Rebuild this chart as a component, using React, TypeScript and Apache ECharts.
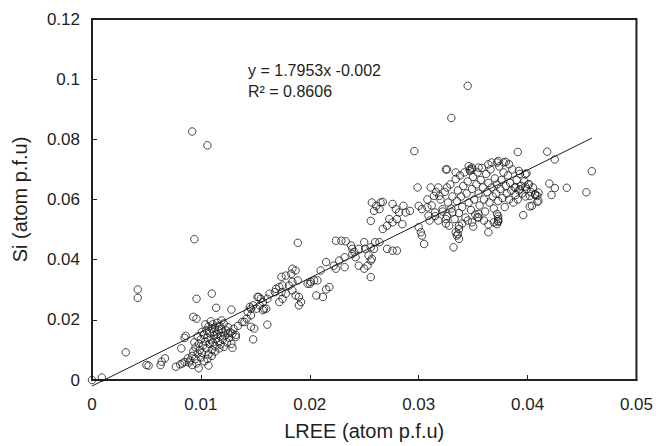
import React, { useEffect, useRef } from "react";
import * as echarts from "echarts";

// LREE (atom p.f.u) vs Si (atom p.f.u) — [x, y] pairs
const isolatedPoints: number[][] = [
  [0.0, 0.0], [0.0009, 0.0008], [0.0031, 0.0092], [0.0042, 0.0301], [0.0042, 0.0273],
  [0.005, 0.005], [0.0052, 0.0048], [0.0063, 0.005], [0.0064, 0.0061], [0.0067, 0.0072],
  [0.0077, 0.0044], [0.0081, 0.0052], [0.0083, 0.0055], [0.0086, 0.0147], [0.0096, 0.027],
  [0.0093, 0.021], [0.0096, 0.0204], [0.0098, 0.0039], [0.0107, 0.0048], [0.011, 0.0287],
  [0.0114, 0.024], [0.0128, 0.0234], [0.0092, 0.0826], [0.0106, 0.078], [0.0094, 0.0468],
  [0.0189, 0.0456], [0.0345, 0.0978], [0.033, 0.0871], [0.0296, 0.0761], [0.0082, 0.0105],
  [0.0085, 0.014],
];

const lowCluster: number[][] = [
  [0.0085, 0.006], [0.0088, 0.0072], [0.009, 0.0065], [0.0092, 0.008], [0.0093, 0.0095],
  [0.0095, 0.007], [0.0095, 0.0108], [0.0097, 0.0088], [0.0098, 0.012], [0.0099, 0.01],
  [0.01, 0.0075], [0.01, 0.0135], [0.0101, 0.009], [0.0102, 0.0115], [0.0103, 0.015],
  [0.0104, 0.0128], [0.0105, 0.0105], [0.0105, 0.0165], [0.0106, 0.014], [0.0107, 0.0085],
  [0.0107, 0.0178], [0.0108, 0.012], [0.0108, 0.0155], [0.0109, 0.0135], [0.011, 0.017],
  [0.011, 0.01], [0.0111, 0.0185], [0.0111, 0.0125], [0.0112, 0.0148], [0.0112, 0.016],
  [0.0113, 0.0175], [0.0113, 0.0112], [0.0114, 0.0138], [0.0115, 0.019], [0.0115, 0.0152],
  [0.0116, 0.0165], [0.0116, 0.0128], [0.0117, 0.018], [0.0118, 0.0145], [0.0118, 0.0118],
  [0.0119, 0.017], [0.012, 0.0158], [0.012, 0.0135], [0.0121, 0.0188], [0.0122, 0.0148],
  [0.0123, 0.0165], [0.0124, 0.0125], [0.0125, 0.0175], [0.0126, 0.014], [0.0127, 0.0158],
  [0.0128, 0.012], [0.013, 0.017], [0.0132, 0.015], [0.0134, 0.018], [0.0096, 0.0055],
  [0.0092, 0.005], [0.0089, 0.0058], [0.0103, 0.0062], [0.0106, 0.007], [0.011, 0.008],
  [0.0129, 0.0107], [0.0129, 0.0154], [0.0132, 0.0143], [0.0148, 0.0135], [0.0149, 0.0171],
  [0.0146, 0.0177], [0.0138, 0.0193], [0.0142, 0.0204], [0.014, 0.0193], [0.0161, 0.0184],
  [0.0094, 0.0125], [0.0097, 0.0145], [0.0101, 0.016], [0.0104, 0.0185], [0.0109, 0.0195],
  [0.0113, 0.0095], [0.0117, 0.0105], [0.0121, 0.011], [0.0125, 0.0155], [0.0119, 0.0198],
];

const midPoints: number[][] = [
  [0.0143, 0.0226], [0.0146, 0.0237], [0.0152, 0.0276], [0.0154, 0.0248], [0.0145, 0.0243],
  [0.0148, 0.0248], [0.0151, 0.0237], [0.0157, 0.0232], [0.0153, 0.0276], [0.0155, 0.027],
  [0.0157, 0.0259], [0.0158, 0.0237], [0.0146, 0.0215], [0.0184, 0.037], [0.0187, 0.0364],
  [0.0183, 0.0353], [0.0178, 0.0347], [0.0189, 0.0331], [0.0184, 0.0326], [0.0181, 0.0314],
  [0.0175, 0.0314], [0.0172, 0.0309], [0.0169, 0.0303], [0.0168, 0.0292], [0.0174, 0.0292],
  [0.0178, 0.0287], [0.0184, 0.0298], [0.0187, 0.0281], [0.019, 0.0276], [0.0192, 0.0259],
  [0.019, 0.0248], [0.0175, 0.027], [0.0172, 0.0259], [0.0163, 0.0287], [0.0161, 0.027],
  [0.016, 0.0237], [0.0174, 0.0343], [0.0198, 0.032], [0.0201, 0.0326], [0.0204, 0.0331],
  [0.0207, 0.0331], [0.02, 0.032], [0.0218, 0.0309], [0.0215, 0.0301], [0.0206, 0.0281],
  [0.0212, 0.0276], [0.0215, 0.0392], [0.021, 0.0364], [0.0232, 0.0408], [0.0227, 0.0397],
  [0.0222, 0.038], [0.0224, 0.037], [0.0232, 0.0375], [0.0239, 0.0419], [0.0242, 0.0408],
  [0.0245, 0.038], [0.025, 0.037], [0.0256, 0.0342], [0.0245, 0.0436], [0.0251, 0.0436],
  [0.0256, 0.0441], [0.0259, 0.0436], [0.0254, 0.0414], [0.0257, 0.0403], [0.0256, 0.0397],
  [0.0253, 0.038], [0.0224, 0.0463], [0.0229, 0.0463], [0.0233, 0.0461], [0.0238, 0.0447],
  [0.0239, 0.0436], [0.0241, 0.0425], [0.025, 0.0458], [0.026, 0.0458],
];

const upperMidPoints: number[][] = [
  [0.0257, 0.059], [0.0261, 0.0579], [0.0265, 0.059], [0.0267, 0.0592], [0.0259, 0.0562],
  [0.0264, 0.0568], [0.0256, 0.0529], [0.0276, 0.0585], [0.0279, 0.0568], [0.0282, 0.0557],
  [0.0286, 0.0579], [0.0288, 0.0557], [0.0273, 0.0535], [0.0276, 0.0524], [0.028, 0.0535],
  [0.0285, 0.0518], [0.0271, 0.0513], [0.0292, 0.0562], [0.03, 0.0579], [0.0303, 0.0568],
  [0.0308, 0.0574], [0.0309, 0.0546], [0.0315, 0.0557], [0.0314, 0.0612], [0.0299, 0.064],
  [0.0311, 0.064], [0.03, 0.0508], [0.0303, 0.048], [0.0302, 0.0491], [0.0305, 0.0452],
  [0.0271, 0.0436], [0.0276, 0.043], [0.028, 0.043], [0.0267, 0.0502], [0.0264, 0.0458],
  [0.0337, 0.0502], [0.0335, 0.048], [0.0337, 0.0469], [0.0332, 0.0441],
];

const upperCluster: number[][] = [
  [0.0318, 0.053], [0.032, 0.06], [0.0322, 0.056], [0.0324, 0.0625], [0.0326, 0.0545],
  [0.0327, 0.059], [0.0329, 0.065], [0.033, 0.057], [0.0331, 0.061], [0.0333, 0.0535],
  [0.0334, 0.0668], [0.0335, 0.0595], [0.0336, 0.063], [0.0337, 0.0555], [0.0338, 0.068],
  [0.0339, 0.061], [0.034, 0.0575], [0.0341, 0.0645], [0.0342, 0.069], [0.0343, 0.054],
  [0.0344, 0.062], [0.0345, 0.066], [0.0346, 0.059], [0.0347, 0.07], [0.0348, 0.0565],
  [0.0349, 0.0635], [0.035, 0.0675], [0.0351, 0.06], [0.0352, 0.055], [0.0353, 0.065],
  [0.0354, 0.069], [0.0355, 0.062], [0.0356, 0.058], [0.0357, 0.0665], [0.0358, 0.0705],
  [0.0359, 0.064], [0.036, 0.06], [0.0361, 0.056], [0.0362, 0.0685], [0.0363, 0.0625],
  [0.0364, 0.0655], [0.0365, 0.059], [0.0366, 0.07], [0.0367, 0.064], [0.0368, 0.061],
  [0.0369, 0.057], [0.037, 0.067], [0.0371, 0.062], [0.0372, 0.065], [0.0373, 0.0595],
  [0.0374, 0.071], [0.0375, 0.0635], [0.0376, 0.0665], [0.0377, 0.0605], [0.0378, 0.069],
  [0.0379, 0.0575], [0.038, 0.0645], [0.0381, 0.062], [0.0382, 0.068], [0.0383, 0.06],
  [0.0384, 0.0655], [0.0385, 0.063], [0.0386, 0.07], [0.0387, 0.059], [0.0388, 0.064],
  [0.0389, 0.0615], [0.039, 0.0665], [0.0391, 0.06], [0.0392, 0.063], [0.0393, 0.0685],
  [0.0394, 0.0645], [0.0395, 0.062], [0.0397, 0.066], [0.0398, 0.061], [0.0399, 0.0635],
  [0.0401, 0.065], [0.0403, 0.0625], [0.0405, 0.064], [0.0407, 0.0615], [0.034, 0.052],
  [0.035, 0.051], [0.0345, 0.053], [0.0355, 0.054], [0.036, 0.053], [0.0325, 0.052],
  [0.0315, 0.0545], [0.031, 0.053], [0.0312, 0.058], [0.0308, 0.06], [0.0316, 0.0625],
  [0.0318, 0.064], [0.0325, 0.07], [0.0334, 0.069], [0.0346, 0.0711], [0.0349, 0.07],
  [0.0355, 0.0706], [0.0364, 0.0717], [0.0372, 0.0723], [0.0378, 0.0723], [0.0367, 0.0723],
  [0.0373, 0.0728], [0.038, 0.0725], [0.0383, 0.0717], [0.0349, 0.0706], [0.0347, 0.0695],
  [0.0392, 0.0695], [0.0399, 0.0687], [0.0322, 0.0568], [0.0325, 0.0535], [0.0328, 0.0513],
  [0.0331, 0.0557], [0.0319, 0.0612], [0.0326, 0.064],
];

const rightPoints: number[][] = [
  [0.0391, 0.0758], [0.0418, 0.0759], [0.0425, 0.0733], [0.0459, 0.0694], [0.0454, 0.0624],
  [0.0436, 0.0639], [0.0425, 0.0638], [0.042, 0.0653], [0.0422, 0.0615], [0.0396, 0.0548],
  [0.0409, 0.0592], [0.0409, 0.0612], [0.0402, 0.0577], [0.0364, 0.0517], [0.0364, 0.0491],
  [0.0336, 0.0485], [0.0326, 0.07], [0.0373, 0.0544], [0.0373, 0.0526], [0.0398, 0.0684],
  [0.0401, 0.0651], [0.041, 0.0596], [0.0404, 0.0579], [0.0389, 0.064], [0.0393, 0.0634],
  [0.0398, 0.0643], [0.0402, 0.0612], [0.0407, 0.0618], [0.041, 0.0623], [0.0372, 0.0552],
  [0.0373, 0.0529], [0.0355, 0.0552], [0.0354, 0.0541], [0.0349, 0.0524], [0.0337, 0.0513],
  [0.0334, 0.0491], [0.0369, 0.0524], [0.0373, 0.0535], [0.0372, 0.0518],
];

// Regression line y = 1.7953x - 0.002, drawn over the LREE range of the data
const trendSlope = 1.7953;
const trendIntercept = -0.002;
const trendXRange = [0, 0.0459];

const xTicks = [0, 0.01, 0.02, 0.03, 0.04, 0.05];
const yTicks = [0, 0.02, 0.04, 0.06, 0.08, 0.1, 0.12];

const equationText = "y = 1.7953x -0.002";
const r2Text = "R² = 0.8606";

const FONT = "'Liberation Sans', Arial, Helvetica, sans-serif";
const TEXT = "#231f20";

export default function App() {
  const ref = useRef<HTMLDivElement>(null);
  useEffect(() => {
    if (!ref.current) return;
    const chart = echarts.init(ref.current, null, { renderer: "svg" });
    const allPoints = [
      ...isolatedPoints, ...lowCluster, ...midPoints,
      ...upperMidPoints, ...upperCluster, ...rightPoints,
    ];
    const trend = trendXRange.map((x) => [x, trendSlope * x + trendIntercept]);
    const fmt = (v: number) => String(parseFloat(v.toFixed(3)));
    chart.setOption({
      animation: false,
      backgroundColor: "#fff",
      grid: {
        left: 92, top: 19, right: 18, bottom: 64,
        show: true, borderColor: "#231f20", borderWidth: 2,
        backgroundColor: "transparent",
      },
      xAxis: {
        type: "value",
        min: xTicks[0], max: xTicks[xTicks.length - 1], interval: 0.01,
        name: "LREE (atom p.f.u)",
        nameLocation: "middle", nameGap: 41,
        nameTextStyle: { fontFamily: FONT, fontSize: 20, color: TEXT },
        axisLine: { show: true, lineStyle: { color: "#231f20", width: 2 } },
        axisTick: { show: true, inside: true, length: 5, lineStyle: { color: "#231f20", width: 1 } },
        axisLabel: { fontFamily: FONT, fontSize: 17, color: TEXT, margin: 16, formatter: fmt },
        splitLine: { show: false },
      },
      yAxis: {
        type: "value",
        min: yTicks[0], max: yTicks[yTicks.length - 1], interval: 0.02,
        name: "Si (atom p.f.u)",
        nameLocation: "middle", nameGap: 62, nameRotate: 90,
        nameTextStyle: { fontFamily: FONT, fontSize: 20, color: TEXT },
        axisLine: { show: true, lineStyle: { color: "#231f20", width: 2 } },
        axisTick: { show: true, inside: true, length: 5, lineStyle: { color: "#231f20", width: 1 } },
        axisLabel: { fontFamily: FONT, fontSize: 17, color: TEXT, margin: 12, formatter: fmt },
        splitLine: { show: false },
      },
      series: [
        {
          type: "scatter",
          data: allPoints,
          symbol: "circle",
          symbolSize: 7.5,
          itemStyle: { color: "rgba(0,0,0,0)", borderColor: "#1a1a1a", borderWidth: 1 },
        },
        {
          type: "line",
          data: trend,
          symbol: "none",
          clip: false,
          lineStyle: { color: "#1a1a1a", width: 1 },
          z: 3,
        },
      ],
      graphic: [
        {
          type: "text", left: 248, top: 62,
          style: { text: equationText, font: `16px ${FONT}`, fill: TEXT },
        },
        {
          type: "text", left: 248, top: 83,
          style: { text: r2Text, font: `16px ${FONT}`, fill: TEXT },
        },
      ],
    });
    return () => chart.dispose();
  }, []);
  return (
    <div
      ref={ref}
      style={{ position: "fixed", left: 0, top: 0, width: 656, height: 446 }}
    />
  );
}
